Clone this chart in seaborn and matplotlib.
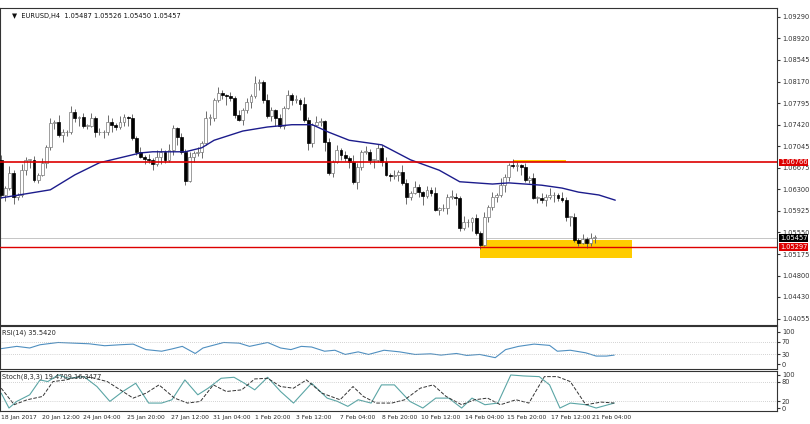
import matplotlib
matplotlib.use("Agg")
import matplotlib.pyplot as plt
import seaborn as sns
import numpy as np
import pandas as pd
from matplotlib.patches import Rectangle

sns.set_style("white")
plt.rcParams['font.family'] = ['DejaVu Sans']

first_open = 1.0681
closes = [1.0620, 1.0632, 1.0658, 1.0617, 1.0620, 1.0663, 1.0681, 1.0681, 1.0646, 1.0655,
          1.0676, 1.0703, 1.0745, 1.0747, 1.0724, 1.0729, 1.0729, 1.0764, 1.0754, 1.0755,
          1.0740, 1.0740, 1.0754, 1.0729, 1.0729, 1.0729, 1.0747, 1.0742, 1.0738, 1.0747,
          1.0755, 1.0754, 1.0719, 1.0695, 1.0686, 1.0683, 1.0681, 1.0674, 1.0686, 1.0695,
          1.0681, 1.0698, 1.0736, 1.0721, 1.0695, 1.0644, 1.0686, 1.0693, 1.0695, 1.0710,
          1.0754, 1.0754, 1.0785, 1.0797, 1.0794, 1.0792, 1.0788, 1.0759, 1.0750, 1.0768,
          1.0781, 1.0792, 1.0814, 1.0816, 1.0785, 1.0757, 1.0768, 1.0754, 1.0740, 1.0771,
          1.0794, 1.0785, 1.0785, 1.0778, 1.0750, 1.0710,
          1.0742, 1.0747, 1.0748, 1.0712, 1.0658, 1.0677, 1.0698, 1.0689, 1.0684, 1.0677,
          1.0643, 1.0669, 1.0695, 1.0695, 1.0681, 1.0681, 1.0702, 1.0677, 1.0655, 1.0653,
          1.0655, 1.0660, 1.0641, 1.0617, 1.0624, 1.0634, 1.0625, 1.0618, 1.0629, 1.0624,
          1.0594, 1.0597, 1.0597, 1.0617, 1.0617, 1.0615, 1.0563, 1.0573, 1.0573, 1.0580,
          1.0554, 1.0533, 1.0582, 1.0599, 1.0617, 1.0620, 1.0637, 1.0651, 1.0672, 1.0670,
          1.0672, 1.0669, 1.0646, 1.0649, 1.0615, 1.0615, 1.0611, 1.0617, 1.0620, 1.0620,
          1.0615, 1.0611, 1.0582, 1.0582, 1.0542, 1.0537, 1.0544, 1.0537, 1.0546, 1.0546]
wick_up = [0.0008, 0.0004, 0.0012, 0.0006, 0.0003, 0.0010, 0.0005, 0.0002, 0.0007, 0.0004, 0.0009, 0.0003]
wick_dn = [0.0005, 0.0010, 0.0004, 0.0012, 0.0006, 0.0003, 0.0008, 0.0015, 0.0004, 0.0006, 0.0002, 0.0009]

ma_idx = [0, 12, 18, 24, 34, 37, 41, 45, 49, 52, 59, 65, 71, 76, 80, 85, 93, 100, 107, 112, 120, 124, 132, 137, 141, 146, 150]
ma_val = [1.0615, 1.0629, 1.0655, 1.0676, 1.0693, 1.0695, 1.0695, 1.0695, 1.0702, 1.0715, 1.0731, 1.0738, 1.0742,
          1.0742, 1.0729, 1.0715, 1.0707, 1.0681, 1.0663, 1.0643, 1.0639, 1.0641, 1.0637, 1.0632, 1.0625, 1.0620, 1.0611]

rsi_zx = [0, 30, 55, 75, 110, 140, 170, 200, 230, 255, 280, 310, 330, 350, 375, 390, 430, 460, 480, 515, 540, 560,
          580, 600, 625, 645, 665, 690, 710, 740, 770, 800, 830, 850, 880, 900, 925, 955, 975, 1000, 1030, 1060,
          1075, 1100, 1130, 1150, 1170, 1185]
rsi_val = [48, 55, 50, 60, 67, 65, 63, 57, 60, 62, 45, 40, 47, 55, 33, 50, 67, 65, 55, 67, 50, 45,
           55, 53, 40, 43, 30, 38, 30, 43, 38, 30, 32, 28, 33, 27, 30, 20, 45, 55, 62, 58,
           40, 43, 35, 25, 25, 28]

st_zx = [0, 15, 30, 55, 75, 90, 110, 130, 160, 185, 210, 235, 260, 285, 310, 330, 355, 380, 400, 425, 450, 470,
         490, 515, 540, 565, 600, 630, 650, 670, 690, 715, 735, 760, 790, 815, 840, 865, 890, 910, 935, 960,
         985, 1010, 1040, 1060, 1080, 1100, 1130, 1150, 1185]
st_main = [45, 0, 20, 40, 85, 80, 100, 90, 95, 65, 20, 50, 75, 15, 15, 25, 85, 40, 60, 90, 93, 75,
           55, 93, 50, 15, 75, 30, 20, 5, 25, 15, 70, 70, 20, 0, 30, 30, 0, 30, 10, 15,
           100, 97, 95, 70, 0, 15, 10, 0, 15]
sig_zx = [0, 25, 50, 80, 100, 125, 150, 175, 205, 230, 255, 280, 305, 335, 360, 385, 410, 435, 465, 490, 515, 540,
          565, 590, 620, 655, 680, 700, 725, 755, 780, 810, 835, 860, 890, 915, 940, 965, 995, 1020, 1050, 1075,
          1100, 1130, 1160, 1185]
sig_val = [60, 10, 25, 35, 80, 85, 95, 92, 80, 55, 30, 45, 70, 30, 15, 20, 70, 50, 55, 88, 90, 65,
           60, 85, 45, 25, 65, 35, 15, 15, 25, 60, 70, 35, 10, 25, 30, 10, 25, 15, 95, 95,
           80, 10, 18, 15]

date_px = [18, 60, 101, 145, 189, 231, 272, 313, 357, 399, 440, 484, 526, 570, 611]
date_lbl = ["18 Jan 2017", "20 Jan 12:00", "24 Jan 04:00", "25 Jan 20:00", "27 Jan 12:00", "31 Jan 04:00",
            "1 Feb 20:00", "3 Feb 12:00", "7 Feb 04:00", "8 Feb 20:00", "10 Feb 12:00", "14 Feb 04:00",
            "15 Feb 20:00", "17 Feb 12:00", "21 Feb 04:00"]
price_ticks = [1.09290, 1.08920, 1.08545, 1.08170, 1.07795, 1.07420, 1.07045, 1.06675, 1.06300,
               1.05925, 1.05550, 1.05175, 1.04800, 1.04430, 1.04055]
res_level = 1.06766
sup_level = 1.05297
last_price = 1.05457

FS = 4.8
PX = 4.1  # pixels per candle
fig = plt.figure(figsize=(8.1, 4.24), dpi=100)
W = 777 / 810
def ax_at(top, bot):
    return fig.add_axes([0, 1 - bot / 424, W, (bot - top) / 424])
ax = ax_at(8, 325)
ar = ax_at(326, 369)
ast = ax_at(371, 411)
xmax = 777 / PX
for a in (ax, ar, ast):
    a.set_xlim(-0.3, xmax)
    for s in a.spines.values():
        s.set_color("#333333"); s.set_linewidth(0.8)
    a.yaxis.tick_right()
    a.tick_params(axis='y', labelsize=FS, length=2, pad=1.5, colors="#333333")
    a.set_xticks([])

n = len(closes)
opens = [first_open] + closes[:-1]
for i in range(n):
    o, c = opens[i], closes[i]
    hi = max(o, c) + wick_up[i % len(wick_up)]
    lo = min(o, c) - wick_dn[i % len(wick_dn)]
    ax.vlines(i, lo, hi, color="#555555", lw=0.6, zorder=3)
    bull = c >= o
    h = max(abs(c - o), 0.00008)
    ax.add_patch(Rectangle((i - 0.35, min(o, c)), 0.7, h, facecolor="white" if bull else "black",
                           edgecolor="#777777" if bull else "black", lw=0.5, zorder=4))

sns.lineplot(x=ma_idx, y=ma_val, ax=ax, color="#1c1c8c", lw=1.0, zorder=5)
ax.add_patch(Rectangle((117, 1.0511), 37, 1.0542 - 1.0511, facecolor="#ffcc00", edgecolor="none", zorder=1))
ax.add_patch(Rectangle((125, 1.06766), 13, 0.0004, facecolor="#ffcc00", edgecolor="none", zorder=1))
ax.axhline(res_level, color="#dd0000", lw=1.2, zorder=6)
ax.axhline(sup_level, color="#dd0000", lw=1.0, zorder=6)
ax.axhline(last_price, color="#bbbbbb", lw=0.6, zorder=2)
ax.set_ylim(1.03943, 1.09446)
ax.set_yticks(price_ticks)
ax.set_yticklabels([f"{v:.5f}" for v in price_ticks])
for lvl, col in ((res_level, "#dd0000"), (sup_level, "#dd0000"), (last_price, "black")):
    ax.text(1.004, lvl, f"{lvl:.5f}", transform=ax.get_yaxis_transform(), fontsize=FS, color="white",
            va="center", ha="left", zorder=10,
            bbox=dict(boxstyle="square,pad=0.12", facecolor=col, edgecolor="none"))
ax.text(0.015, 0.985, "▼  EURUSD,H4  1.05487 1.05526 1.05450 1.05457", transform=ax.transAxes,
        fontsize=FS, va="top", color="#111111")

rsi_x = [z / 1.93 / PX for z in rsi_zx]
sns.lineplot(x=rsi_x, y=rsi_val, ax=ar, color="#4f8fc0", lw=0.8)
ar.set_ylim(-15, 118)
ar.set_yticks([0, 30, 70, 100])
for lv in (30, 70):
    ar.axhline(lv, color="#aaaaaa", lw=0.5, ls=(0, (1, 2)))
ar.text(0.003, 0.93, "RSI(14) 35.5420", transform=ar.transAxes, fontsize=FS, va="top")

sns.lineplot(x=[z / 1.93 / PX for z in st_zx], y=st_main, ax=ast, color="#5aa5a5", lw=0.8)
sns.lineplot(x=[z / 1.93 / PX for z in sig_zx], y=sig_val, ax=ast, color="#333333", lw=0.7, ls="--")
ast.set_ylim(-9, 112)
ast.set_yticks([0, 20, 80, 100])
for lv in (20, 80):
    ast.axhline(lv, color="#aaaaaa", lw=0.5, ls=(0, (1, 2)))
ast.text(0.003, 0.95, "Stoch(8,3,3) 19.4709 16.3477", transform=ast.transAxes, fontsize=FS, va="top")
ast.set_xticks([p / PX for p in date_px])
ast.set_xticklabels(date_lbl, fontsize=4.3)
ast.tick_params(axis='x', length=2, pad=1, labelsize=4.3)

fig.savefig("out.png", dpi=100)
